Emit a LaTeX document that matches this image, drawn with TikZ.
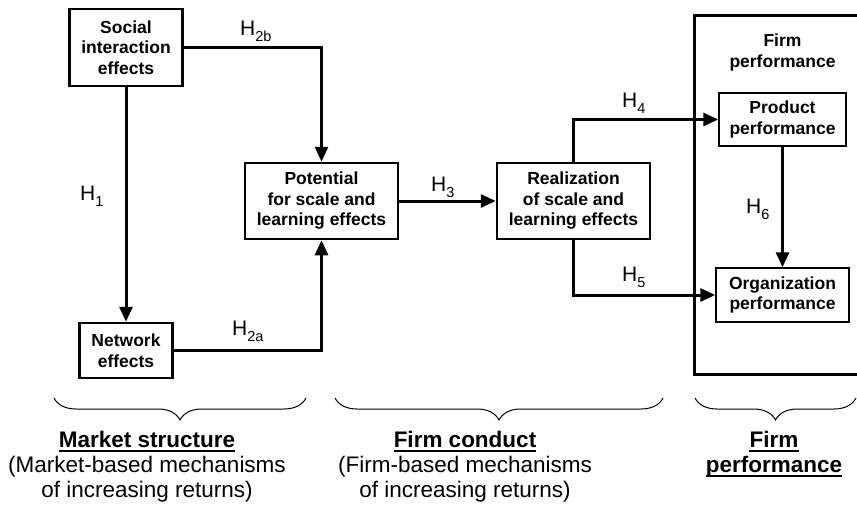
\documentclass[tikz,border=0pt]{standalone}
\usepackage{fontspec}
\setmainfont{Liberation Sans}
\usetikzlibrary{arrows.meta,decorations.pathreplacing}
% hypothesis label: H with a lowered index
\newcommand\hlabel[1]{H\raisebox{-6pt}{\fontsize{14.5}{14.5}\selectfont #1}}
\begin{document}
\begin{tikzpicture}[x=1pt,y=-1pt,
  box/.style={draw, line width=2.5pt, align=center, inner sep=0pt,
    font=\fontsize{17.5}{20.5}\selectfont\bfseries},
  thinbox/.style={box, line width=1.5pt},
  link/.style={line width=3pt, -{Triangle[length=15pt,width=13pt]}},
  hyp/.style={anchor=base west, inner sep=0pt, font=\fontsize{21}{21}\selectfont},
  group/.style={decorate, decoration={brace, mirror, amplitude=22pt}, line width=1pt},
  caption/.style={anchor=base, inner sep=0pt, font=\fontsize{22.5}{25}\selectfont},
  heading/.style={anchor=base, inner sep=0pt, font=\fontsize{22.5}{25}\selectfont\bfseries},
  rule/.style={line width=2pt}]
\useasboundingbox (0,0) rectangle (857,519);

% frame around the performance block (open to the right)
\draw[line width=3pt] (860,16) -- (694,16) -- (694,374) -- (860,374);

% boxes
\node[box, minimum width=113pt, minimum height=77pt] (soc) at (126,47.5) {Social\\interaction\\effects};
\node[box, minimum width=93pt, minimum height=55pt] (net) at (126,350.5) {Network\\effects};
\node[box, minimum width=153pt, minimum height=76pt] (pot) at (321.5,201) {Potential\\for scale and\\learning effects};
\node[box, minimum width=153pt, minimum height=76pt] (real) at (573.5,201) {Realization\\of scale and\\learning effects};
\node[box, draw=none] (perf) at (782.5,52.5) {Firm\\performance};
\node[thinbox, minimum width=127pt, minimum height=53pt] (prod) at (782.5,119.5) {Product\\performance};
\node[thinbox, minimum width=133pt, minimum height=54pt] (org) at (782.5,295) {Organization\\performance};

% hypothesised links
\draw[link] (soc.south) -- (net.north);
\draw[link] (soc.east) -| (pot.north);
\draw[link] (net.east) -| (pot.south);
\draw[link] (pot.east) -- (real.west);
\draw[link] (real.north) |- (prod.west);
\draw[link] (real.south) |- (org.west);
\draw[link] (prod.south) -- (org.north);

% link labels
\node[hyp] (h1) at (80,200) {\hlabel{1}};
\node[hyp] (h2b) at (240,36) {\hlabel{2b}};
\node[hyp] (h2a) at (232,335) {\hlabel{2a}};
\node[hyp] (h3) at (431,191) {\hlabel{3}};
\node[hyp] (h4) at (622,107) {\hlabel{4}};
\node[hyp] (h5) at (622,281) {\hlabel{5}};
\node[hyp] (h6) at (746,213) {\hlabel{6}};

% braces grouping the stages
\draw[group] (54,398) -- (306,398);
\draw[group] (335,398) -- (663,398);
\draw[group] (695,398) -- (856,398);

% stage captions
\node[heading] (ms) at (147,447) {Market structure};
\draw[rule] ([yshift=-3.5pt]ms.base west) -- ([yshift=-3.5pt]ms.base east);
\node[caption] (ms2) at (147,472) {(Market-based mechanisms};
\node[caption] (ms3) at (147,497) {of increasing returns)};

\node[heading] (fc) at (465,447) {Firm conduct};
\draw[rule] ([yshift=-3.5pt]fc.base west) -- ([yshift=-3.5pt]fc.base east);
\node[caption] (fc2) at (465,472) {(Firm-based mechanisms};
\node[caption] (fc3) at (465,497) {of increasing returns)};

\node[heading] (fp) at (774,447) {Firm};
\draw[rule] ([yshift=-3.5pt]fp.base west) -- ([yshift=-3.5pt]fp.base east);
\node[heading] (fp2) at (774,472) {performance};
\draw[rule] ([yshift=-3.5pt]fp2.base west) -- ([yshift=-3.5pt]fp2.base east);
\end{tikzpicture}
\end{document}
